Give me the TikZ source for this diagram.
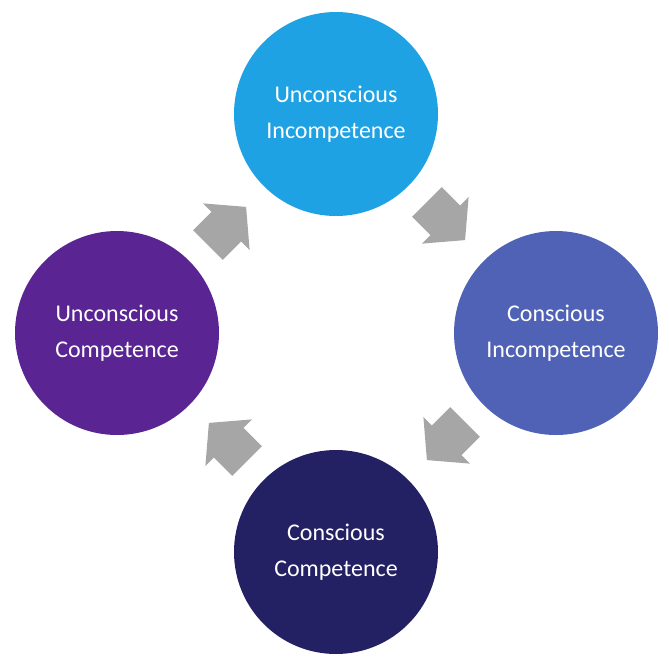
\documentclass[tikz,border=0pt]{standalone}
\usepackage{fontspec}
\setmainfont{Carlito}
\usepackage{xcolor}
\definecolor{unincomp}{HTML}{1FA2E3}
\definecolor{conincomp}{HTML}{4F62B5}
\definecolor{concomp}{HTML}{232064}
\definecolor{uncomp}{HTML}{5A2592}
\definecolor{arrowgray}{HTML}{A6A6A6}
\tikzset{
  stage/.style={circle, minimum size=204pt, inner sep=0pt, text=white, align=center,
    font=\fontsize{24}{36}\selectfont},
  cyclearrow/.style={fill=arrowgray}
}

\begin{document}
\begin{tikzpicture}[x=1pt,y=-1pt]
	\useasboundingbox (0,0) rectangle (669,670);
	%Stages of the cycle
	\node[stage, fill=unincomp] (ui) at (336,114) {Unconscious\\Incompetence};
	\node[stage, fill=conincomp] (ci) at (556,333) {Conscious\\Incompetence};
	\node[stage, fill=concomp] (cc) at (336,552) {Conscious\\Competence};
	\node[stage, fill=uncomp] (uc) at (117,333) {Unconscious\\Competence};
	% Block arrows between the stages
	\foreach \cx/\cy/\ang in {227/226/45, 446/221/-45, 446/441/-135, 228/442/135}
	\fill[cyclearrow, shift={(\cx,\cy)}, rotate=\ang]
	(-27,-21) -- (-1,-21) -- (-1,-33) -- (27,0) -- (-1,33) -- (-1,21) -- (-27,21) -- cycle;
\end{tikzpicture}
\end{document}
